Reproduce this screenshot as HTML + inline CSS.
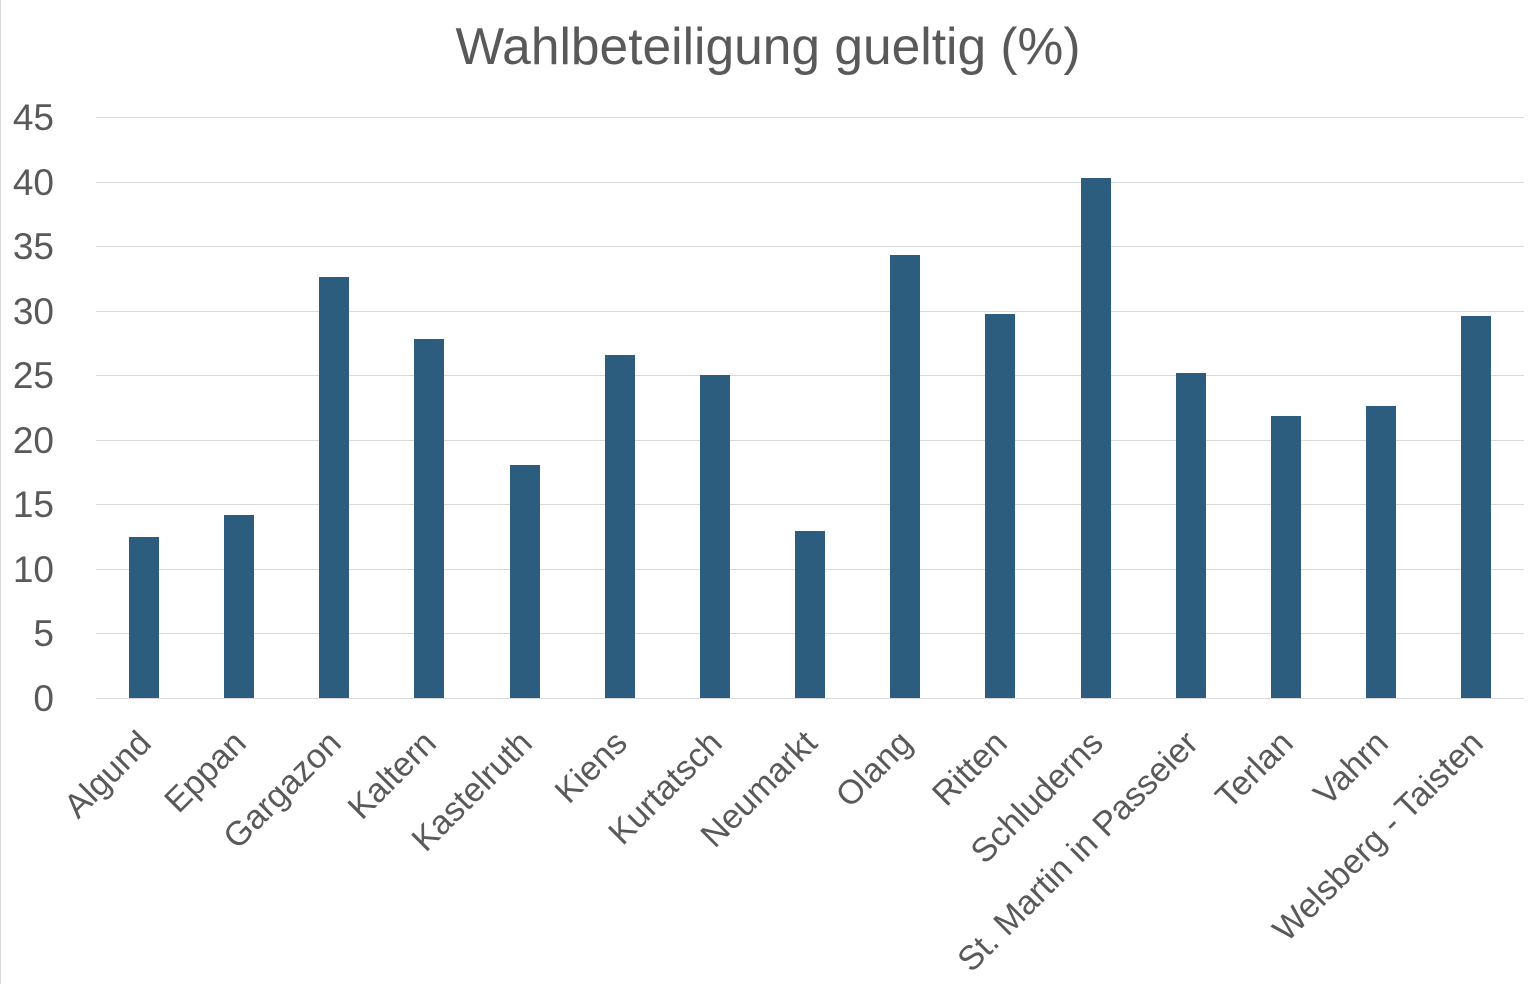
<!DOCTYPE html>
<html><head><meta charset="utf-8"><style>
html,body{margin:0;padding:0;background:#fff;}
svg{display:block;}
text{font-family:"Liberation Sans",sans-serif;fill:#595959;}
</style></head><body>
<svg width="1536" height="984" viewBox="0 0 1536 984">
<rect x="0" y="0" width="1536" height="984" fill="#fff"/>
<line x1="0.5" y1="0" x2="0.5" y2="984" stroke="#d9d9d9"/>
<text x="768" y="64" font-size="51.5" text-anchor="middle">Wahlbeteiligung gueltig (%)</text>
<g stroke="#d9d9d9" stroke-width="1">
<line x1="96" y1="117.5" x2="1524" y2="117.5"/>
<line x1="96" y1="182.5" x2="1524" y2="182.5"/>
<line x1="96" y1="246.5" x2="1524" y2="246.5"/>
<line x1="96" y1="311.5" x2="1524" y2="311.5"/>
<line x1="96" y1="375.5" x2="1524" y2="375.5"/>
<line x1="96" y1="440.5" x2="1524" y2="440.5"/>
<line x1="96" y1="504.5" x2="1524" y2="504.5"/>
<line x1="96" y1="569.5" x2="1524" y2="569.5"/>
<line x1="96" y1="633.5" x2="1524" y2="633.5"/>
<line x1="96" y1="698.5" x2="1524" y2="698.5"/>
</g>
<g font-size="37" text-anchor="end">
<text x="54" y="130">45</text>
<text x="54" y="195">40</text>
<text x="54" y="259">35</text>
<text x="54" y="324">30</text>
<text x="54" y="388">25</text>
<text x="54" y="453">20</text>
<text x="54" y="517">15</text>
<text x="54" y="582">10</text>
<text x="54" y="646">5</text>
<text x="54" y="711">0</text>
</g>
<g fill="#2c5d7f">
<rect x="129" y="537" width="30" height="161"/>
<rect x="224" y="515" width="30" height="183"/>
<rect x="319" y="277" width="30" height="421"/>
<rect x="414" y="339" width="30" height="359"/>
<rect x="510" y="465" width="30" height="233"/>
<rect x="605" y="355" width="30" height="343"/>
<rect x="700" y="375" width="30" height="323"/>
<rect x="795" y="531" width="30" height="167"/>
<rect x="890" y="255" width="30" height="443"/>
<rect x="985" y="314" width="30" height="384"/>
<rect x="1081" y="178" width="30" height="520"/>
<rect x="1176" y="373" width="30" height="325"/>
<rect x="1271" y="416" width="30" height="282"/>
<rect x="1366" y="406" width="30" height="292"/>
<rect x="1461" y="316" width="30" height="382"/>
</g>
<g font-size="34" text-anchor="end">
<text transform="translate(153,745) rotate(-45)">Algund</text>
<text transform="translate(248,745) rotate(-45)">Eppan</text>
<text transform="translate(343,745) rotate(-45)">Gargazon</text>
<text transform="translate(438,745) rotate(-45)">Kaltern</text>
<text transform="translate(534,745) rotate(-45)">Kastelruth</text>
<text transform="translate(629,745) rotate(-45)">Kiens</text>
<text transform="translate(724,745) rotate(-45)">Kurtatsch</text>
<text transform="translate(819,745) rotate(-45)">Neumarkt</text>
<text transform="translate(914,745) rotate(-45)">Olang</text>
<text transform="translate(1009,745) rotate(-45)">Ritten</text>
<text transform="translate(1105,745) rotate(-45)">Schluderns</text>
<text transform="translate(1200,745) rotate(-45)">St. Martin in Passeier</text>
<text transform="translate(1295,745) rotate(-45)">Terlan</text>
<text transform="translate(1390,745) rotate(-45)">Vahrn</text>
<text transform="translate(1485,745) rotate(-45)">Welsberg - Taisten</text>
</g>
</svg>
</body></html>
